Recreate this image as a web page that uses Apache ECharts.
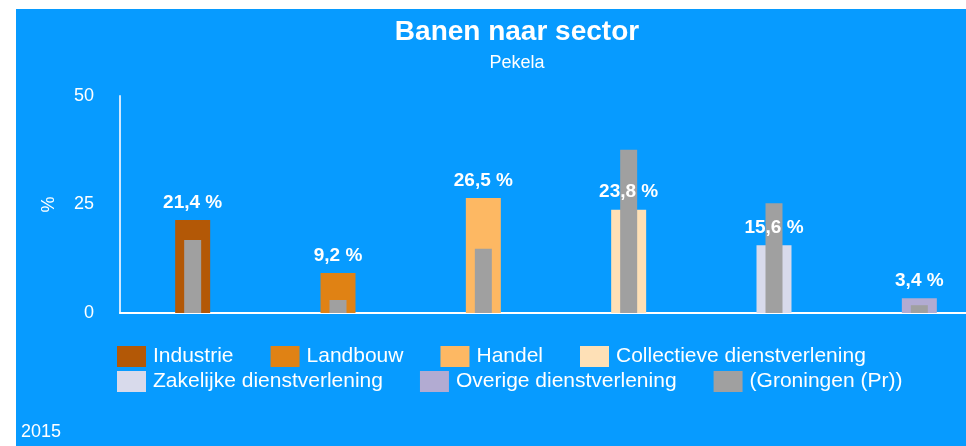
<!DOCTYPE html>
<html lang="nl">
<head>
    <meta charset="UTF-8">
    <title>Banen naar sector</title>
    <style>
        html, body { margin: 0; padding: 0; background: #fff; }
        /* het blauwe vlak, rechts afgesneden zoals in het origineel */
        .kader { position: absolute; left: 16px; top: 9px; width: 950px; height: 437px; overflow: hidden; }
        #main { width: 976px; height: 437px; }
    </style>
</head>
<body>
    <div class="kader"><div id="main"></div></div>
    <script src="https://cdn.jsdelivr.net/npm/echarts@6/dist/echarts.min.js"></script>
    <script>
    // sectoren en waarden (Pekela, 2015) en provincie ter vergelijking
    var sectoren = ['Industrie', 'Landbouw', 'Handel', 'Collectieve dienstverlening', 'Zakelijke dienstverlening', 'Overige dienstverlening'];
    var pekela = [21.4, 9.2, 26.5, 23.8, 15.6, 3.4];
    var groningen = [16.8, 3.0, 14.8, 37.6, 25.3, 1.8];
    var kleuren = ['#b35806', '#e08214', '#fdb863', '#fee0b6', '#d8daeb', '#b2abd2'];
    var grijs = '#a0a0a0';
    var provNaam = '(Groningen (Pr))';
    var yTicks = [0, 25, 50];

    var font = "'Liberation Sans', Arial, sans-serif";
    var myChart = echarts.init(document.getElementById('main'), null, { renderer: 'canvas' });

    var series = [];
    sectoren.forEach(function (naam, i) {
        // elke sector een eigen reeks, alleen op zijn eigen plek gevuld
        var d = sectoren.map(function (s, j) { return j === i ? pekela[i] : '-'; });
        series.push({
            name: naam,
            type: 'bar',
            stack: 'pekela',
            xAxisIndex: 0,
            barWidth: 35,
            z: 2,
            itemStyle: { color: kleuren[i] },
            label: {
                show: true,
                position: 'top',
                distance: 8,
                color: '#fff',
                fontFamily: font,
                fontWeight: 'bold',
                fontSize: 19,
                formatter: function (p) { return String(p.value).replace('.', ',') + ' %'; }
            },
            data: d
        });
    });
    series.push({
        name: provNaam,
        type: 'bar',
        xAxisIndex: 1,
        barWidth: 17,
        z: 2,
        itemStyle: { color: grijs },
        data: groningen
    });

    var legendStijl = {
        left: 101,
        icon: 'rect',
        itemWidth: 29,
        itemHeight: 21,
        itemGap: 37,
        padding: 0,
        textStyle: { color: '#fff', fontFamily: font, fontSize: 21, padding: [0, 0, 0, 2] }
    };

    var option = {
        backgroundColor: '#079bff',
        animation: false,
        title: [
            {
                text: 'Banen naar sector',
                subtext: 'Pekela',
                left: 496,
                top: 4,
                textAlign: 'center',
                itemGap: 8,
                textStyle: { color: '#fff', fontFamily: font, fontWeight: 'bold', fontSize: 28 },
                subtextStyle: { color: '#fff', fontFamily: font, fontSize: 18 }
            },
            {
                text: '2015',
                left: 0,
                bottom: 0,
                textStyle: { color: '#fff', fontFamily: font, fontWeight: 'normal', fontSize: 18 }
            }
        ],
        legend: [
            Object.assign({}, legendStijl, { top: 337, data: sectoren.slice(0, 4) }),
            Object.assign({}, legendStijl, { top: 362, data: sectoren.slice(4).concat([provNaam]) })
        ],
        grid: {
            left: 104,
            top: 87,
            width: 872,
            bottom: 133
        },
        xAxis: [
            {
                type: 'category',
                data: sectoren,
                axisLine: { lineStyle: { color: '#fff', width: 2 } },
                axisTick: { show: false },
                axisLabel: { show: false }
            },
            {
                type: 'category',
                data: sectoren,
                show: false
            }
        ],
        yAxis: {
            type: 'value',
            min: yTicks[0],
            max: yTicks[yTicks.length - 1],
            interval: 25,
            name: '%',
            nameLocation: 'middle',
            nameGap: 62,
            nameTextStyle: { color: '#fff', fontFamily: font, fontSize: 18 },
            axisLine: { show: true, lineStyle: { color: '#cfe8ff', width: 2 } },
            axisTick: { show: false },
            splitLine: { show: false },
            axisLabel: { color: '#fff', fontFamily: font, fontSize: 18, margin: 26 }
        },
        series: series
    };

    myChart.setOption(option);
    window.addEventListener('resize', myChart.resize);
    </script>
</body>
</html>
